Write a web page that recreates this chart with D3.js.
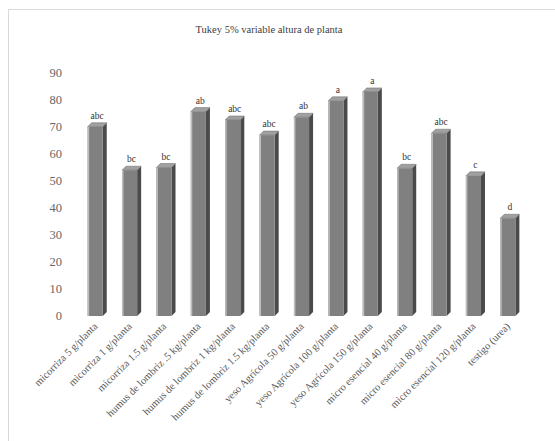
<!DOCTYPE html>
<html>
<head>
<meta charset="utf-8">
<script src="https://cdn.jsdelivr.net/npm/d3@7"></script>
<style>
  body { margin: 0; background: #fff; }
  svg text { font-family: "Liberation Serif", "DejaVu Serif", serif; }
</style>
</head>
<body>
<div id="chart"></div>
<script>
// Tukey 5% - altura de planta, one bar per treatment
const categories = [
  "micorriza 5 g/planta", "micorriza 1 g/planta", "micorriza 1.5 g/planta",
  "humus de lombriz .5 kg/planta", "humus de lombriz 1 kg/planta", "humus de lombriz 1.5 kg/planta",
  "yeso Agrícola 50 g/planta", "yeso Agrícola 100 g/planta", "yeso Agrícola 150 g/planta",
  "micro esencial 40 g/planta", "micro esencial 80 g/planta", "micro esencial 120 g/planta",
  "testigo (urea)"
];
const values = [70.1, 54, 55, 75.7, 72.6, 67, 73.6, 79.7, 83, 54.7, 67.7, 51.9, 36.2];
const groups = ["abc", "bc", "bc", "ab", "abc", "abc", "ab", "a", "a", "bc", "abc", "c", "d"];
const yTicks = [0, 10, 20, 30, 40, 50, 60, 70, 80, 90];

const width = 555, height = 441, depth = 4;

const svg = d3.select("#chart").append("svg")
  .attr("width", width)
  .attr("height", height);

// outer frame
svg.append("rect")
  .attr("x", 8.5).attr("y", 9.5)
  .attr("width", 560).attr("height", 450)
  .attr("fill", "none")
  .attr("stroke", "#d9d9d9");

svg.append("text")
  .attr("x", 269).attr("y", 33)
  .attr("text-anchor", "middle")
  .attr("font-size", 10.5)
  .attr("fill", "#404040")
  .text("Tukey 5% variable altura de planta");

const x = d3.scaleBand().domain(categories).range([78, 525])
  .paddingInner(0.56).paddingOuter(0.28);
const y = d3.scaleLinear().domain([0, 90]).range([316, 73]);

// y tick labels
svg.append("g")
  .attr("font-size", 12.5)
  .attr("fill", "#666")
  .attr("text-anchor", "end")
  .selectAll("text")
  .data(yTicks)
  .join("text")
  .attr("x", 62)
  .attr("y", d => y(d) + 4)
  .text(d => d);

const bars = svg.append("g")
  .selectAll("g")
  .data(values)
  .join("g");

const bw = x.bandwidth();
const bx = (d, i) => x(categories[i]);

// right side face
bars.append("path")
  .attr("fill", "#4a4a4a")
  .attr("d", (d, i) => {
    const x0 = bx(d, i) + bw, y0 = y(d), y1 = y(0);
    return `M${x0},${y0}L${x0 + depth},${y0 - depth}L${x0 + depth},${y1 - depth}L${x0},${y1}Z`;
  });

// top face
bars.append("path")
  .attr("fill", "#a0a0a0")
  .attr("stroke", "#6a6a6a")
  .attr("stroke-width", 0.5)
  .attr("d", (d, i) => {
    const x0 = bx(d, i), y0 = y(d);
    return `M${x0},${y0}L${x0 + depth},${y0 - depth}L${x0 + bw + depth},${y0 - depth}L${x0 + bw},${y0}Z`;
  });

// front face
bars.append("rect")
  .attr("x", bx)
  .attr("y", d => y(d))
  .attr("width", bw)
  .attr("height", d => y(0) - y(d))
  .attr("fill", "#808080");

// light edge on the left of the front
bars.append("rect")
  .attr("x", bx)
  .attr("y", d => y(d))
  .attr("width", 1.5)
  .attr("height", d => y(0) - y(d))
  .attr("fill", "#bdbdbd");

// significance letters
svg.append("g")
  .attr("font-size", 9.5)
  .attr("fill", "#333")
  .attr("text-anchor", "middle")
  .selectAll("text")
  .data(groups)
  .join("text")
  .attr("x", (d, i) => x(categories[i]) + bw / 2 + 2)
  .attr("y", (d, i) => y(values[i]) - depth - 4)
  .text(d => d);

// rotated category labels
svg.append("g")
  .attr("font-size", 10.5)
  .attr("fill", "#595959")
  .attr("text-anchor", "end")
  .selectAll("text")
  .data(categories)
  .join("text")
  .attr("transform", d => `translate(${x(d) + bw / 2 + 3},${327}) rotate(-45)`)
  .text(d => d);
</script>
</body>
</html>
